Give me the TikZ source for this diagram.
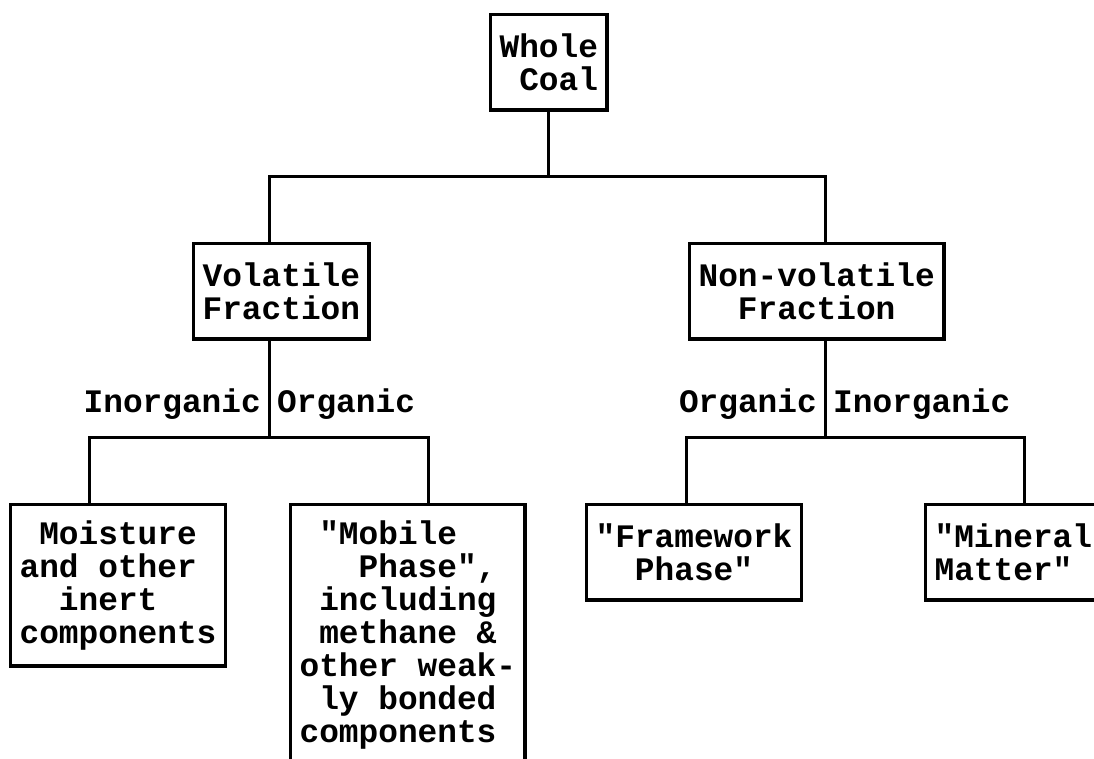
\documentclass[tikz,border=0pt]{standalone}
\usepackage{fontspec}
\newfontfamily\cfont{Liberation Mono}[Ligatures=TeXOff]
% one blank character cell of the monospaced font
\newcommand\blank{\hphantom{0}}
\begin{document}
\begin{tikzpicture}[x=1pt,y=-1pt,
  every node/.style={font=\cfont\bfseries\fontsize{32.8}{33}\selectfont},
  box/.style={draw, line width=3.6pt, align=left, inner xsep=9pt, inner ysep=3pt, anchor=north west},
  twoline/.style={box, minimum height=95.4pt},
  conn/.style={line width=3pt, line join=miter},
  lbl/.style={inner sep=0pt}]
\clip (0,0) rectangle (1094,759);
\fill[white] (0,0) rectangle (1094,759);

% boxes
\node[twoline] (whole) at (488.8,12.8) {Whole\\\blank Coal};
\node[twoline] (vol) at (191.8,241.8) {Volatile\\Fraction};
\node[twoline] (nonvol) at (687.8,241.8) {Non-volatile\\\blank\blank Fraction};
\node[box, minimum height=161.4pt] (moist) at (8.8,502.8)
  {\blank Moisture\\and other\\\blank\blank inert\\components};
\node[box, minimum height=260.4pt] (mobile) at (288.8,502.8)
  {\blank"Mobile\\\blank\blank\blank Phase",\\\blank including\\\blank methane \&\\other weak-\\\blank ly bonded\\components};
\node[twoline] (frame) at (584.8,502.8) {"Framework\\\blank\blank Phase"};
\node[twoline] (mineral) at (923.8,502.8) {"Mineral\\Matter"};

% junction bars
\coordinate (b1l) at (269,177);
\coordinate (b1r) at (825,177);
\coordinate (b2l) at (89,437);
\coordinate (b2r) at (428,437);
\coordinate (b3l) at (686,437);
\coordinate (b3r) at (1024,437);

% connectors
\draw[conn] (whole.south) -- (whole.south |- b1l);
\draw[conn] (vol.north -| b1l) -- (b1l) -- (b1r) -- (nonvol.north -| b1r);
\draw[conn] (vol.south -| b1l) -- (b1l |- b2l);
\draw[conn] (moist.north -| b2l) -- (b2l) -- (b2r) -- (mobile.north -| b2r);
\draw[conn] (nonvol.south -| b1r) -- (b1r |- b3l);
\draw[conn] (frame.north -| b3l) -- (b3l) -- (b3r) -- (mineral.north -| b3r);

% branch labels
\node[lbl, anchor=base east] (inorgL) at (261,412) {Inorganic};
\node[lbl, anchor=base west] (orgL) at (277,412) {Organic};
\node[lbl, anchor=base east] (orgR) at (817,412) {Organic};
\node[lbl, anchor=base west] (inorgR) at (833,412) {Inorganic};
\end{tikzpicture}
\end{document}
